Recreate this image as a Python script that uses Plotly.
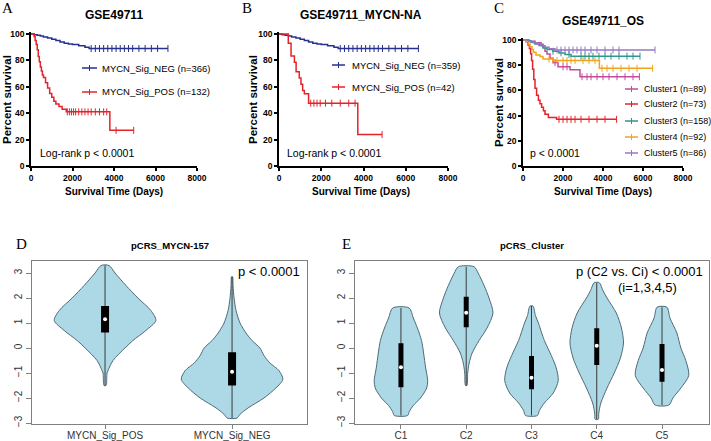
import plotly.graph_objects as go

W, H = 711, 441
NARROW = "Liberation Sans Narrow, Arial Narrow, Liberation Sans, Arial, sans-serif"
REG = "Liberation Sans, Arial, sans-serif"
SERIF = "Liberation Serif, Times New Roman, serif"

# ---------------- Kaplan-Meier data (days, percent survival) ----------------
KM_TICKS_X = [0, 2000, 4000, 6000, 8000]
KM_TICKS_Y = [0, 20, 40, 60, 80, 100]

A_NEG_T = [0, 150, 300, 450, 600, 800, 1000, 1200, 1400, 1600, 1800, 2000, 2300, 2600, 2800, 6600]
A_NEG_S = [100, 99.5, 99, 98.5, 97.8, 97, 96, 95, 94, 93, 92.5, 92, 91, 90, 89, 89]
A_NEG_C = [2900, 3100, 3300, 3500, 3700, 3900, 4100, 4300, 4500, 4700, 4900, 5200, 5500, 5800, 6100, 6600]
A_POS_T = [0, 150, 200, 250, 300, 350, 400, 450, 500, 550, 600, 700, 800, 900, 1000, 1100, 1200, 1350, 1500, 1700, 3800, 4950]
A_POS_S = [100, 98, 95, 92, 88, 83, 79, 75, 72, 69, 67, 63, 59, 55, 52, 49, 47, 45, 43, 41, 27, 27]
A_POS_C = [1750, 1850, 1950, 2050, 2150, 2300, 2450, 2600, 2750, 2900, 3100, 3300, 3500, 3650, 4100, 4950]

B_NEG_T = [0, 150, 300, 450, 600, 800, 1000, 1200, 1400, 1600, 1800, 2000, 2300, 2600, 2800, 6600]
B_NEG_S = [100, 99.5, 99, 98.5, 97.8, 97, 96, 95, 94, 93, 92.5, 92, 91, 90, 89, 89]
B_NEG_C = [2900, 3100, 3300, 3500, 3700, 3900, 4100, 4300, 4500, 4700, 4900, 5200, 5500, 5800, 6100, 6600]
B_POS_T = [0, 440, 570, 730, 810, 960, 1040, 1120, 1200, 1400, 3730, 4880]
B_POS_S = [100, 92.9, 83.3, 78.6, 71.4, 66.7, 61.9, 57.1, 54.8, 47.6, 23.8, 23.8]
B_POS_C = [1500, 1650, 1800, 1950, 2200, 2500, 2900, 3300, 3600, 4880]

C1_T = [0, 300, 600, 900, 1000, 1100, 1200, 1350, 1500, 1750, 2350, 2850, 5820]
C1_S = [100, 98.9, 97.8, 96.6, 94.4, 91, 88.8, 85.4, 82, 78.7, 76.4, 70.8, 70.8]
C1_C = [1600, 2000, 2200, 2950, 3200, 3400, 3700, 4000, 4300, 4700, 5100, 5500, 5820]
C2_T = [0, 150, 250, 320, 380, 430, 480, 540, 600, 680, 770, 850, 930, 1020, 1100, 1270, 1680, 4680]
C2_S = [100, 98.6, 95.9, 93.2, 89.0, 83.6, 76.7, 68.5, 61.6, 56.2, 52.1, 49.3, 46.6, 43.8, 41.1, 38.4, 37.0, 37.0]
C2_C = [1800, 2000, 2200, 2400, 2600, 2900, 3300, 3700, 4100, 4680]
C3_T = [0, 200, 400, 600, 800, 1000, 1200, 1500, 1800, 2100, 2400, 5850]
C3_S = [100, 99.4, 98.1, 96.8, 95.5, 93.6, 92.3, 91.0, 89.7, 88.4, 87.1, 87.1]
C3_C = [1500, 1900, 2300, 2900, 3100, 3300, 3500, 3800, 4100, 4400, 4800, 5200, 5500, 5850]
C4_T = [0, 150, 270, 350, 450, 520, 650, 850, 1000, 1500, 3820, 6480]
C4_S = [100, 98.9, 96.7, 94.6, 92.4, 90.2, 88.0, 86.9, 84.8, 83.7, 77.5, 77.5]
C4_C = [1300, 1500, 1700, 2000, 2200, 2400, 2600, 3000, 3300, 3600, 3950, 4200, 4500, 4900, 5300, 5700, 6480]
C5_T = [0, 300, 500, 700, 900, 1100, 1300, 1600, 6600]
C5_S = [100, 98.8, 97.7, 96.5, 95.3, 94.2, 93.0, 92.0, 92.0]
C5_C = [1700, 1900, 2100, 2300, 2500, 2700, 2900, 3100, 3400, 3700, 4100, 4500, 4800, 6600]

LEG_A = ["MYCN_Sig_NEG (n=366)", "MYCN_Sig_POS (n=132)"]
LEG_B = ["MYCN_Sig_NEG (n=359)", "MYCN_Sig_POS (n=42)"]
LEG_C = ["Cluster1 (n=89)", "Cluster2 (n=73)", "Cluster3 (n=158)", "Cluster4 (n=92)", "Cluster5 (n=86)"]

# ---------------- Violin data (score level, relative density) ----------------
D_CATS = ["MYCN_Sig_POS", "MYCN_Sig_NEG"]
D_POS_Y = [3.3, 3.0, 2.5, 2.0, 1.5, 1.1, 0.7, 0.3, 0.0, -0.5, -0.9, -1.0, -1.5]
D_POS_W = [4, 10, 21, 33, 46, 51, 41, 28, 20, 8, 3, 2, 1]
D_NEG_Y = [2.85, 2.5, 2.0, 1.5, 1.0, 0.6, 0.3, 0.0, -0.3, -0.6, -0.9, -1.25, -1.6, -2.0, -2.4, -2.65, -2.8]
D_NEG_W = [0.5, 1, 2, 4, 8, 14, 20, 28, 32, 38, 47, 51, 44, 32, 16, 8, 5]
D_Q1 = [0.62, -1.5]
D_MED = [1.15, -0.95]
D_Q3 = [1.68, -0.17]

E_CATS = ["C1", "C2", "C3", "C4", "C5"]
E1_Y = [1.6, 1.2, 0.8, 0.3, -0.2, -0.8, -1.3, -1.6, -2.0, -2.3, -2.55, -2.7]
E1_W = [8, 12, 16, 20, 22, 24, 26, 25, 19, 12, 8, 6.5]
E2_Y = [3.25, 3.0, 2.5, 2.0, 1.4, 0.8, 0.3, -0.2, -0.6, -1.0, -1.5]
E2_W = [8, 12, 18, 23, 27, 21, 13, 6, 3, 1.5, 0.7]
E3_Y = [1.68, 1.3, 1.0, 0.3, -0.3, -0.8, -1.3, -1.8, -2.2, -2.5, -2.7]
E3_W = [1.5, 4, 7, 13, 20, 25, 27, 22, 13, 8, 6]
E4_Y = [2.61, 2.3, 2.0, 1.4, 0.8, 0.2, -0.4, -1.0, -1.6, -2.2, -2.6, -2.85]
E4_W = [2.5, 6, 10, 19, 24, 26, 23, 17, 10, 4, 2, 1.5]
E5_Y = [1.63, 1.2, 0.6, 0.0, -0.5, -1.1, -1.6, -2.0, -2.28]
E5_W = [5, 8, 15, 19, 24, 27, 19, 11, 7]
E_Q1 = [-1.57, 0.83, -1.65, -0.68, -1.35]
E_MED = [-0.77, 1.41, -1.19, 0.09, -0.88]
E_Q3 = [0.19, 2.05, -0.32, 0.79, 0.16]
VIO_TICKS = [-3, -2, -1, 0, 1, 2, 3]

BLUE = "#27308f"
RED = "#e4232b"
C_COLORS = ["#c24d9c", "#e4232b", "#2e978c", "#f2a31f", "#9479c2"]
VFILL = "#add8e6"
VLINE = "#4f6b78"
FRAME = "#808080"

fig = go.Figure()


def fx(p):
    return p / W


def fy(p):
    return 1 - p / H


def step_value(times, surv, t):
    v = surv[0]
    for ti, si in zip(times, surv):
        if ti <= t:
            v = si
    return v


def km(ax, times, surv, cens, color, name):
    fig.add_trace(go.Scatter(x=times, y=surv, mode="lines", name=name,
                             line=dict(color=color, width=1.5, shape="hv"),
                             xaxis="x" + ax, yaxis="y" + ax, showlegend=False,
                             hoverinfo="skip"))
    fig.add_trace(go.Scatter(x=cens, y=[step_value(times, surv, c) for c in cens],
                             mode="markers", name=name,
                             marker=dict(symbol="line-ns", size=5, color=color,
                                         line=dict(color=color, width=1)),
                             xaxis="x" + ax, yaxis="y" + ax, showlegend=False))


km("", A_NEG_T, A_NEG_S, A_NEG_C, BLUE, LEG_A[0])
km("", A_POS_T, A_POS_S, A_POS_C, RED, LEG_A[1])
km("2", B_NEG_T, B_NEG_S, B_NEG_C, BLUE, LEG_B[0])
km("2", B_POS_T, B_POS_S, B_POS_C, RED, LEG_B[1])
for (t, s, c), col, nm in zip([(C1_T, C1_S, C1_C), (C2_T, C2_S, C2_C), (C3_T, C3_S, C3_C),
                               (C4_T, C4_S, C4_C), (C5_T, C5_S, C5_C)], C_COLORS, LEG_C):
    km("3", t, s, c, col, nm)


def violin(ax, pos, ys, ws, q1, med, q3, maxw, boxw):
    m = max(ws)
    left = [pos - w / m * maxw for w in ws]
    right = [pos + w / m * maxw for w in ws]
    xs = left + right[::-1] + [left[0]]
    yy = ys + ys[::-1] + [ys[0]]
    fig.add_trace(go.Scatter(x=xs, y=yy, mode="lines", fill="toself", fillcolor=VFILL,
                             line=dict(color=VLINE, width=1, shape="spline", smoothing=0.8),
                             xaxis="x" + ax, yaxis="y" + ax, showlegend=False, hoverinfo="skip"))
    fig.add_trace(go.Scatter(x=[pos, pos], y=[min(ys), max(ys)], mode="lines",
                             line=dict(color="#3a3a3a", width=1),
                             xaxis="x" + ax, yaxis="y" + ax, showlegend=False, hoverinfo="skip"))
    fig.add_trace(go.Scatter(x=[pos, pos], y=[q1, q3], mode="lines",
                             line=dict(color="black", width=boxw),
                             xaxis="x" + ax, yaxis="y" + ax, showlegend=False, hoverinfo="skip"))
    fig.add_trace(go.Scatter(x=[pos], y=[med], mode="markers",
                             marker=dict(color="white", size=4),
                             xaxis="x" + ax, yaxis="y" + ax, showlegend=False))


violin("4", 1, D_POS_Y, D_POS_W, D_Q1[0], D_MED[0], D_Q3[0], 0.40, 8)
violin("4", 2, D_NEG_Y, D_NEG_W, D_Q1[1], D_MED[1], D_Q3[1], 0.40, 8)
for i, (ys, ws) in enumerate([(E1_Y, E1_W), (E2_Y, E2_W), (E3_Y, E3_W), (E4_Y, E4_W), (E5_Y, E5_W)]):
    violin("5", i + 1, ys, ws, E_Q1[i], E_MED[i], E_Q3[i], 0.41, 5)

# ---------------- axes ----------------
km_font = dict(family=NARROW, size=8.5, color="black", weight="bold")


def km_x(d0, d1):
    return dict(domain=[fx(d0), fx(d1)], range=[0, 8000], tickvals=KM_TICKS_X,
                showline=True, linecolor="black", linewidth=1.5, ticks="outside",
                ticklen=3, tickwidth=1.5, tickcolor="black", tickfont=km_font,
                showgrid=False, zeroline=False, fixedrange=True, automargin=False)


def km_y(top, anchor):
    return dict(domain=[fy(166), fy(top)], range=[0, 101.5], tickvals=KM_TICKS_Y,
                showline=True, linecolor="black", linewidth=1.5, ticks="outside",
                ticklen=3, tickwidth=1.5, tickcolor="black", tickfont=km_font,
                showgrid=False, zeroline=False, anchor=anchor, fixedrange=True,
                automargin=False)


vio_tick_font = dict(family=REG, size=10, color="#333333")


def v_x(d0, d1, rng, cats):
    return dict(domain=[fx(d0), fx(d1)], range=rng, tickvals=list(range(1, len(cats) + 1)),
                ticktext=cats, showline=True, mirror=True, linecolor=FRAME, linewidth=1,
                ticks="outside", ticklen=4, tickcolor=FRAME, tickfont=vio_tick_font,
                ticklabelstandoff=-2,
                showgrid=False, zeroline=False, fixedrange=True, automargin=False)


def v_y(anchor):
    return dict(domain=[fy(424), fy(261)], range=[-3.04, 3.48], tickvals=VIO_TICKS,
                showline=True, mirror=True, linecolor=FRAME, linewidth=1,
                ticks="outside", ticklen=5, tickcolor=FRAME, tickfont=vio_tick_font,
                tickangle=-90, showgrid=False, zeroline=False, anchor=anchor,
                fixedrange=True, automargin=False)


fig.update_layout(
    width=W, height=H, margin=dict(l=0, r=0, t=0, b=0, autoexpand=False),
    paper_bgcolor="white", plot_bgcolor="white", showlegend=False,
    xaxis=dict(km_x(31, 197), anchor="y"), yaxis=km_y(32, "x"),
    xaxis2=dict(km_x(279, 448), anchor="y2"), yaxis2=km_y(32, "x2"),
    xaxis3=dict(km_x(523, 683), anchor="y3"), yaxis3=km_y(38, "x3"),
    xaxis4=dict(v_x(32, 307, [0.425, 2.59], D_CATS), anchor="y4"), yaxis4=v_y("x4"),
    xaxis5=dict(v_x(355, 709, [0.296, 5.72], E_CATS), anchor="y5"), yaxis5=v_y("x5"),
)

ann = []


def text(x, y, s, size, family=NARROW, bold=False, xanchor="center", angle=0, color="black"):
    ann.append(dict(x=fx(x), y=fy(y), xref="paper", yref="paper", text=s, showarrow=False,
                    xanchor=xanchor, yanchor="middle", textangle=angle,
                    font=dict(family=family, size=size, color=color,
                              weight="bold" if bold else "normal")))


# panel letters
for lx, ly, l in [(7, 8, "A"), (247, 8, "B"), (499, 8, "C"), (21, 244, "D"), (346, 244, "E")]:
    text(lx, ly, l, 15, family=SERIF)

# KM titles & axis titles
text(114, 15, "GSE49711", 12, bold=True)
text(361, 15, "GSE49711_MYCN-NA", 12, bold=True)
text(603, 21, "GSE49711_OS", 12, bold=True)
for cx in [114, 361, 603]:
    text(cx, 191, "Survival Time (Days)", 10, bold=True)
for cx, cy in [(7, 100), (253, 100), (499, 103)]:
    text(cx, cy, "Percent survival", 11.5, bold=True, angle=-90)

text(38, 153, "Log-rank p &lt; 0.0001", 10.5, xanchor="left")
text(285, 153, "Log-rank p &lt; 0.0001", 10.5, xanchor="left")
text(528, 153, "p &lt; 0.0001", 10.5, xanchor="left")

# KM legends
shapes = []


def leg(x0, x1, y, color, label, tx, size):
    shapes.append(dict(type="line", xref="paper", yref="paper", x0=fx(x0), x1=fx(x1),
                       y0=fy(y), y1=fy(y), line=dict(color=color, width=1.5)))
    xm = (x0 + x1) / 2
    shapes.append(dict(type="line", xref="paper", yref="paper", x0=fx(xm), x1=fx(xm),
                       y0=fy(y - 3), y1=fy(y + 3), line=dict(color=color, width=1)))
    text(tx, y, label, size, xanchor="left")


leg(82, 97, 68, BLUE, LEG_A[0], 100, 9.5)
leg(82, 97, 92, RED, LEG_A[1], 100, 9.5)
leg(332, 345, 65, BLUE, LEG_B[0], 350, 9.5)
leg(332, 345, 87, RED, LEG_B[1], 350, 9.5)
for yy, col, lab in zip([89, 104, 121, 137, 153], C_COLORS, LEG_C):
    leg(625, 638, yy, col, lab, 642, 9)

# violin titles and p-values
text(170, 246, "pCRS_MYCN-157", 9.5, family=REG, bold=True)
text(532, 245, "pCRS_Cluster", 9.5, family=REG, bold=True)
text(302, 271, "p &lt; 0.0001", 13, family=REG, xanchor="right")
text(705, 271, "p (C2 vs. Ci) &lt; 0.0001", 13, family=REG, xanchor="right")
text(647, 287, "(i=1,3,4,5)", 13, family=REG)

fig.update_layout(annotations=ann, shapes=shapes)
fig.write_html("out.html", config={"displayModeBar": False},
               post_script="document.body.style.margin='0';document.body.style.overflow='hidden';")
